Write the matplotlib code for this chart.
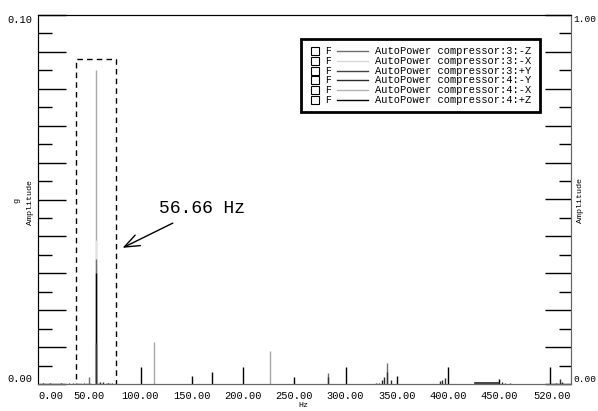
import matplotlib.pyplot as plt
from matplotlib.patches import Rectangle
from matplotlib.lines import Line2D
from matplotlib.ticker import MultipleLocator, FuncFormatter

# spectrum peaks per channel (Hz, g)
c4_mX_f = [56.66, 113.3, 226.6]
c4_mX_a = [0.085, 0.0114, 0.0090]
c3_mX_f = [56.66]
c3_mX_a = [0.039]
c3_mZ_f = [56.66, 50.0, 283.3, 340.0]
c3_mZ_a = [0.034, 0.0020, 0.0029, 0.0058]
c4_pZ_f = [56.66, 100.0, 150.0, 170.0, 200.0, 250.0, 300.0, 350.7, 400.0, 450.0, 499.5]
c4_pZ_a = [0.030, 0.0046, 0.0022, 0.0033, 0.0046, 0.0020, 0.0045, 0.0022, 0.0047, 0.0013, 0.0045]
c3_pY_f = [56.66, 283.3, 340.0, 396.6, 509.0]
c3_pY_a = [0.011, 0.0020, 0.0033, 0.0016, 0.0014]
c4_mY_f = [5, 12, 22, 30, 34, 45, 60, 63, 68, 72, 330, 333, 336, 338, 344, 392, 394, 453, 456, 460, 505, 511]
c4_mY_a = [0.0003, 0.0002, 0.0003, 0.0002, 0.0004, 0.0003, 0.0006, 0.0005, 0.0004, 0.0003, 0.0003,
           0.0004, 0.0010, 0.0020, 0.0012, 0.0008, 0.0010, 0.0006, 0.0004, 0.0003, 0.0003, 0.0006]
broad_f = [426, 450]
broad_a = [0.0003, 0.0003]

legend_labels = ["AutoPower compressor:3:-Z", "AutoPower compressor:3:-X", "AutoPower compressor:3:+Y",
                 "AutoPower compressor:4:-Y", "AutoPower compressor:4:-X", "AutoPower compressor:4:+Z"]
legend_colors = ['#707070', '#d8d8d8', '#444444', '#2a2a2a', '#b4b4b4', '#000000']

xtick_vals = [0, 50, 100, 150, 200, 250, 300, 350, 400, 450, 520]

W, H = 598, 411
fig = plt.figure(figsize=(W / 100, H / 100), dpi=100)
L, R, T, B = 38, 571, 15, 384
ax = fig.add_axes([L / W, 1 - B / H, (R - L) / W, (B - T) / H])

mono = 'Liberation Mono'

# draw tallest first so the shorter channels sit on top
ax.vlines(c4_mX_f, 0, c4_mX_a, color='#a8a8a8', lw=1.0)
ax.vlines(c3_mX_f, 0, c3_mX_a, color='#e2e2e2', lw=1.0)
ax.vlines(c3_mZ_f, 0, c3_mZ_a, color='#707070', lw=1.0)
ax.vlines(c4_pZ_f, 0, c4_pZ_a, color='#000000', lw=1.0)
ax.vlines(c3_pY_f, 0, c3_pY_a, color='#333333', lw=1.0)
ax.vlines(c4_mY_f, 0, c4_mY_a, color='#2a2a2a', lw=1.0)
ax.plot(broad_f, broad_a, color='#222222', lw=1.2)

ax.set_xlim(0, 520)
ax.set_ylim(0, 0.10)

# dashed box around the main peak + note
ax.add_patch(Rectangle((37.5, 0), 38.5, 0.088, fill=False, ls=(0, (4, 3)), lw=1.0, ec='black'))
ax.annotate('', xy=(82.5, 0.0369), xytext=(131.5, 0.0436),
            arrowprops=dict(arrowstyle='->,head_length=0.9,head_width=0.35', mutation_scale=12,
                            color='black', lw=1.0, shrinkA=0, shrinkB=0))
ax.text(118.5, 0.0476, '56.66 Hz', fontsize=13, family=mono, va='center', ha='left')

# left axis
ax.yaxis.set_major_locator(MultipleLocator(0.01))
ax.yaxis.set_minor_locator(MultipleLocator(0.005))
ax.tick_params(axis='y', which='major', direction='in', length=20, width=1, pad=4)
ax.tick_params(axis='y', which='minor', direction='in', length=10, width=1)
ax.yaxis.set_major_formatter(FuncFormatter(lambda v, p: '%.2f' % v if abs(v) < 1e-9 or abs(v - 0.1) < 1e-9 else ''))
for lab in ax.get_yticklabels():
    lab.set_fontfamily(mono)
    lab.set_fontsize(7.5)
ax.set_xticks(xtick_vals)
ax.set_xticklabels(['%.2f' % v for v in xtick_vals], fontfamily=mono, fontsize=7.5)
ax.tick_params(axis='x', length=0, pad=5)
xl = ax.get_xticklabels()
xl[0].set_ha('left')
xl[-1].set_ha('right')

for s in ['left', 'top']:
    ax.spines[s].set_color('#222222')
for s in ['bottom', 'right']:
    ax.spines[s].set_color('#666666')

# right axis
ax2 = ax.twinx()
ax2.set_ylim(0, 1)
ax2.yaxis.set_major_locator(MultipleLocator(0.1))
ax2.yaxis.set_minor_locator(MultipleLocator(0.05))
ax2.tick_params(axis='y', which='major', direction='in', length=19, width=1, pad=2)
ax2.tick_params(axis='y', which='minor', direction='in', length=9, width=1)
ax2.yaxis.set_major_formatter(FuncFormatter(lambda v, p: '%.2f' % v if abs(v) < 1e-9 or abs(v - 1) < 1e-9 else ''))
for lab in ax2.get_yticklabels():
    lab.set_fontfamily(mono)
    lab.set_fontsize(6.8)
ax2.spines['right'].set_color('#666666')
ax2.spines['bottom'].set_color('#666666')

fig.canvas.draw()
for a in (ax, ax2):
    for lab in a.get_yticklabels():
        if lab.get_text() in ('0.10', '1.00'):
            lab.set_va('top')
        elif lab.get_text() == '0.00':
            lab.set_va('bottom')

# axis titles
def px(x, y):
    return x / W, 1 - y / H

fig.text(*px(17, 200), 'g', rotation=90, fontsize=6, family=mono, ha='center', va='center')
fig.text(*px(30, 202), 'Amplitude', rotation=90, fontsize=6, family=mono, ha='center', va='center')
fig.text(*px(580, 200), 'Amplitude', rotation=90, fontsize=6, family=mono, ha='center', va='center')
fig.text(*px(303, 405), 'Hz', fontsize=6, family=mono, ha='center', va='center')

# legend box
x0, y0 = px(301, 112)
x1, y1 = px(540, 39)
fig.patches.append(Rectangle((x0, y0), x1 - x0, y1 - y0, transform=fig.transFigure,
                             fill=True, fc='white', ec='black', lw=2, zorder=5))
for i, (lab, col) in enumerate(zip(legend_labels, legend_colors)):
    yc = 51 + i * 9.8
    bx, by = px(311, yc + 4)
    fig.patches.append(Rectangle((bx, by), 8 / W, 8 / H, transform=fig.transFigure,
                                 fill=False, ec='black', lw=0.8, zorder=6))
    fig.text(*px(325, yc), 'F', fontsize=7, family=mono, va='center', ha='left', zorder=6)
    lx0, ly = px(337, yc)
    lx1, _ = px(368, yc)
    fig.lines.append(Line2D([lx0, lx1], [ly, ly], transform=fig.transFigure, color=col, lw=1.0, zorder=6))
    fig.text(*px(375, yc), lab, fontsize=7.5, family=mono, va='center', ha='left', zorder=6)

fig.savefig('out.png', dpi=100)
